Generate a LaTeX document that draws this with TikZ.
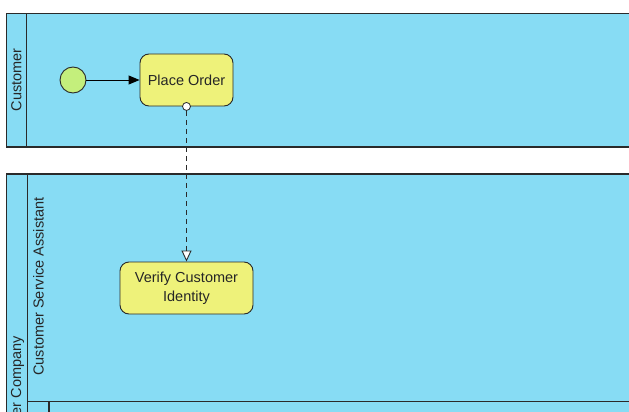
\documentclass[tikz,border=0pt]{standalone}
\usepackage{fontspec}
\setmainfont{Liberation Sans}
\usetikzlibrary{arrows.meta}
\definecolor{lanefill}{HTML}{87DCF4}
\definecolor{taskfill}{HTML}{EEF27A}
\definecolor{startfill}{HTML}{C4EF7C}
\definecolor{edge}{HTML}{2A2A2A}
\definecolor{txt}{HTML}{262626}
\tikzset{
  lane/.style={draw=edge, fill=lanefill, line width=1.1pt},
  task/.style={draw=edge, fill=taskfill, rounded corners=9pt, line width=0.9pt, align=center, text=txt, font=\fontsize{14.5}{19}\selectfont, inner sep=0pt},
  startev/.style={circle, draw=edge, fill=startfill, line width=0.9pt, minimum size=26pt, inner sep=0pt},
  lbl/.style={font=\fontsize{14.5}{17}\selectfont, text=txt, rotate=90, inner sep=0pt},
  flow/.style={draw=black, line width=0.9pt, -{Triangle[length=11pt,width=9pt]}},
  msgdot/.style={circle, draw=edge, fill=white, line width=0.8pt, minimum size=8pt, inner sep=0pt},
  msg/.style={draw=edge, line width=0.9pt, dash pattern=on 5pt off 4pt, -{Triangle[open,fill=white,length=11pt,width=10pt]}}
}
\begin{document}
\begin{tikzpicture}[x=1pt,y=-1pt]
\useasboundingbox (0,0) rectangle (629,412);
% top pool
\path[lane] (6.5,13.5) rectangle (640,147);
\draw[edge, line width=1.1pt] (26.5,13.5) -- (26.5,147);
\node[lbl] (cust) at (16.5,80) {Customer};
% bottom pool
\path[lane] (6.5,174) rectangle (640,420);
\draw[edge, line width=1.6pt] (27.5,174) -- (27.5,420);
\draw[edge, line width=1.1pt] (27.5,401.5) -- (640,401.5);
\draw[edge, line width=1.1pt] (49,401.5) -- (49,420);
\node[lbl, anchor=east] (comp) at (17.5,336) {er Company};
\node[lbl] (csa) at (38.5,286.5) {Customer Service Assistant};
% elements
\node[startev] (start) at (73,80) {};
\node[task, minimum width=93pt, minimum height=52pt] (place) at (186.5,80) {Place Order};
\node[task, minimum width=133pt, minimum height=52pt] (verify) at (186.5,288) {Verify Customer\\Identity};
\node[msgdot] (dot) at (place.south) {};
\draw[flow] (start) -- (place);
\draw[msg] (dot) -- (verify.north);
\end{tikzpicture}
\end{document}
